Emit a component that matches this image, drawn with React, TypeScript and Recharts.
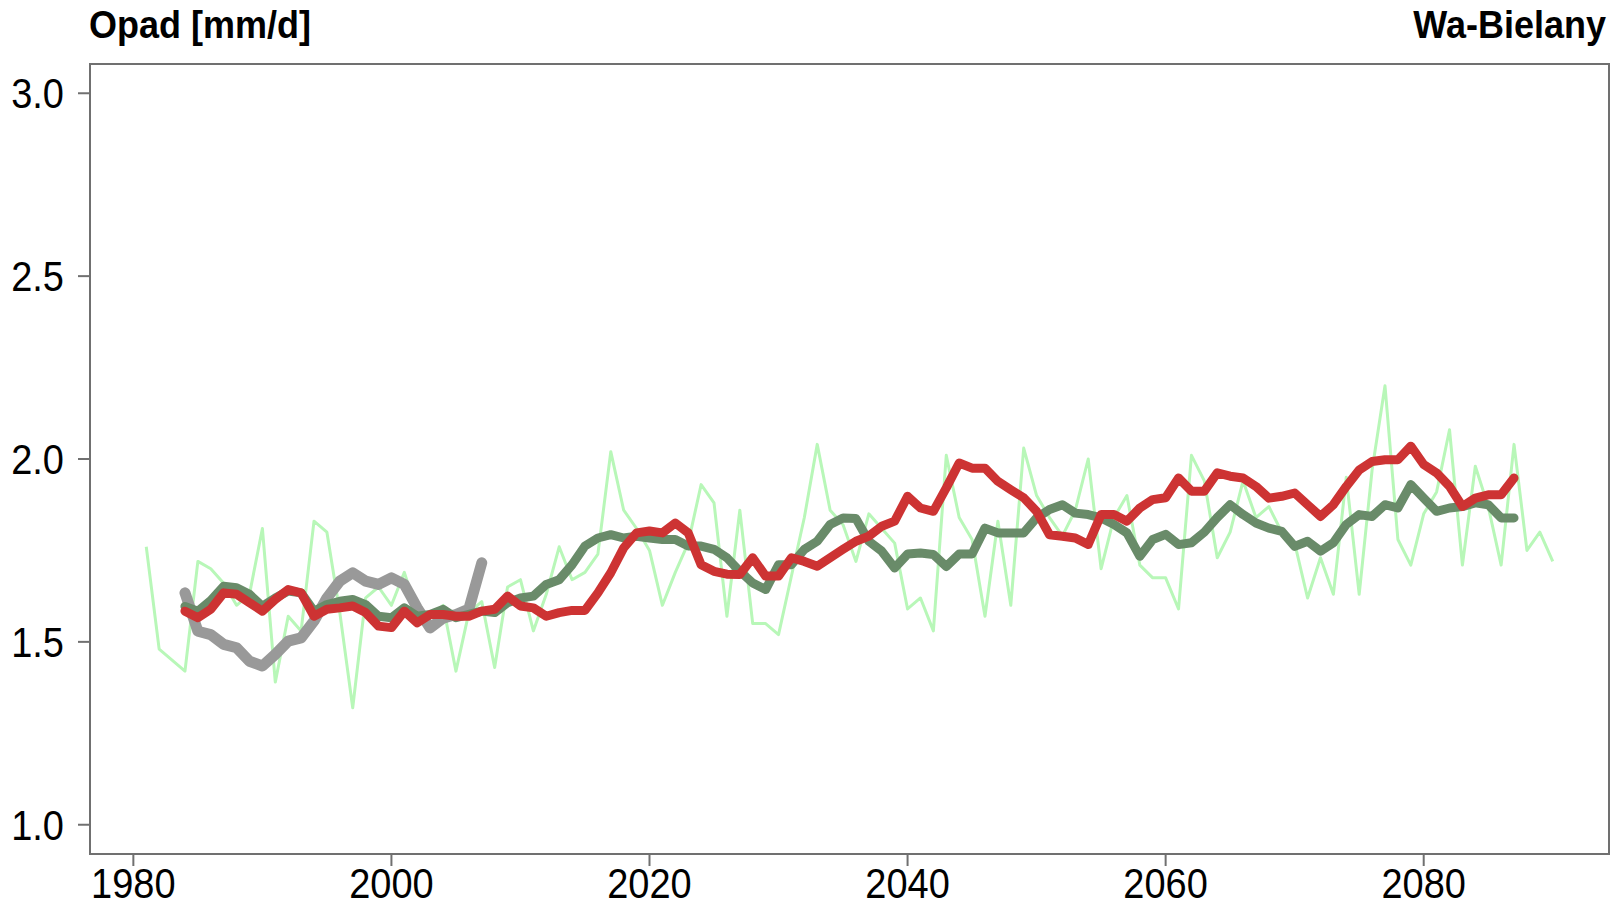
import React from "react";
import { LineChart, Line, XAxis, YAxis, ReferenceArea } from "recharts";

// ---- data ----
const FIRST_YEAR = 1981; // annual series 1981-2090
const SMOOTH_START = 1984; // smoothed series start

const annual = [
  1.76, 1.48, 1.45, 1.42, 1.72, 1.70, 1.66, 1.60, 1.63, 1.81,
  1.39, 1.57, 1.53, 1.83, 1.80, 1.58, 1.32, 1.62, 1.65, 1.60,
  1.69, 1.58, 1.57, 1.60, 1.42, 1.58, 1.61, 1.43, 1.65, 1.67,
  1.53, 1.63, 1.76, 1.67, 1.69, 1.74, 2.02, 1.86, 1.81, 1.75,
  1.60, 1.69, 1.77, 1.93, 1.88, 1.57, 1.86, 1.55, 1.55, 1.52,
  1.68, 1.84, 2.04, 1.86, 1.82, 1.72, 1.85, 1.81, 1.77, 1.59,
  1.62, 1.53, 2.01, 1.84, 1.78, 1.57, 1.83, 1.60, 2.03, 1.90,
  1.84, 1.79, 1.86, 2.00, 1.70, 1.84, 1.90, 1.71, 1.675, 1.675,
  1.59, 2.01, 1.94, 1.73, 1.80, 1.94, 1.84, 1.87, 1.80, 1.77,
  1.62, 1.73, 1.63, 1.95, 1.63, 1.97, 2.20, 1.78, 1.71, 1.85,
  1.91, 2.08, 1.71, 1.98, 1.87, 1.71, 2.04, 1.75, 1.80, 1.72,
];

// observed, smoothed (1984-2007)
const observed = [
  1.634, 1.529, 1.52, 1.493, 1.484, 1.447, 1.434, 1.466, 1.502, 1.511,
  1.557, 1.62, 1.666, 1.689, 1.666, 1.657, 1.675, 1.657, 1.593, 1.538,
  1.565, 1.575, 1.59, 1.716,
];

// model, smoothed (1984-2087)
const greenSmooth = [
  1.597, 1.584, 1.613, 1.652, 1.648, 1.630, 1.597, 1.620, 1.639, 1.634,
  1.584, 1.602, 1.611, 1.616, 1.602, 1.570, 1.566, 1.593, 1.570, 1.575,
  1.589, 1.566, 1.575, 1.584, 1.58, 1.607, 1.620, 1.625, 1.657, 1.670,
  1.711, 1.762, 1.784, 1.793, 1.784, 1.789, 1.784, 1.780, 1.780, 1.762,
  1.762, 1.753, 1.730, 1.693, 1.661, 1.643, 1.711, 1.711, 1.753, 1.775,
  1.821, 1.839, 1.837, 1.775, 1.748, 1.702, 1.740, 1.743, 1.739, 1.706,
  1.740, 1.740, 1.811, 1.798, 1.798, 1.798, 1.839, 1.862, 1.875, 1.852,
  1.848, 1.839, 1.821, 1.798, 1.734, 1.780, 1.794, 1.766, 1.771, 1.80,
  1.84, 1.875, 1.848, 1.825, 1.811, 1.802, 1.761, 1.775, 1.748, 1.771,
  1.821, 1.848, 1.843, 1.875, 1.866, 1.930, 1.893, 1.857, 1.866, 1.870,
  1.880, 1.875, 1.839, 1.839,
];

const redSmooth = [
  1.584, 1.566, 1.589, 1.634, 1.630, 1.607, 1.584, 1.616, 1.643, 1.634,
  1.570, 1.589, 1.593, 1.598, 1.580, 1.543, 1.539, 1.584, 1.552, 1.575,
  1.575, 1.570, 1.570, 1.584, 1.589, 1.625, 1.598, 1.593, 1.570, 1.580,
  1.586, 1.586, 1.634, 1.689, 1.757, 1.798, 1.803, 1.798, 1.825, 1.798,
  1.711, 1.693, 1.685, 1.684, 1.730, 1.680, 1.680, 1.730, 1.720, 1.707,
  1.730, 1.753, 1.775, 1.789, 1.816, 1.830, 1.898, 1.866, 1.857, 1.921,
  1.989, 1.975, 1.975, 1.939, 1.916, 1.894, 1.857, 1.793, 1.789, 1.784,
  1.766, 1.848, 1.848, 1.830, 1.866, 1.889, 1.894, 1.948, 1.912, 1.912,
  1.962, 1.953, 1.948, 1.925, 1.893, 1.898, 1.907, 1.875, 1.843, 1.875,
  1.925, 1.970, 1.993, 1.998, 1.998, 2.035, 1.985, 1.962, 1.925, 1.870,
  1.893, 1.902, 1.902, 1.948,
];

const xTicks = [1980, 2000, 2020, 2040, 2060, 2080];
const yTicks = [1.0, 1.5, 2.0, 2.5, 3.0];
const X_DOMAIN: [number, number] = [1976.64, 2094.36];
const Y_DOMAIN: [number, number] = [0.92, 3.08];

const TITLE_LEFT = "Opad [mm/d]";
const TITLE_RIGHT = "Wa-Bielany";

const data = annual.map((v, i) => {
  const year = FIRST_YEAR + i;
  const j = year - SMOOTH_START;
  return {
    year,
    annual: v,
    observed: j >= 0 && j < observed.length ? observed[j] : null,
    green: j >= 0 && j < greenSmooth.length ? greenSmooth[j] : null,
    red: j >= 0 && j < redSmooth.length ? redSmooth[j] : null,
  };
});

const FONT = "'Liberation Sans', Arial, Helvetica, sans-serif";
const BOX = "#707070";
const STRETCH = 1.1;

const XTick = (props: any) => {
  const { x, y, payload } = props;
  return (
    <text
      x={x}
      y={y}
      transform={`translate(${x},${y}) scale(1,${STRETCH}) translate(${-x},${-y})`}
      textAnchor="middle"
      dy="0.71em"
      fontSize={38}
      fontFamily={FONT}
      fill="#000"
    >
      {String(payload.value)}
    </text>
  );
};

const YTick = (props: any) => {
  const { x, y, payload } = props;
  return (
    <text
      x={x}
      y={y}
      transform={`translate(${x},${y}) scale(1,${STRETCH}) translate(${-x},${-y})`}
      textAnchor="end"
      dy="0.355em"
      fontSize={38}
      fontFamily={FONT}
      fill="#000"
    >
      {Number(payload.value).toFixed(1)}
    </text>
  );
};

export default function App() {
  return (
    <div style={{ position: "absolute", left: 0, top: 0, width: 1622, height: 905, background: "#fff" }}>
      <LineChart
        width={1622}
        height={905}
        data={data}
        margin={{ top: 64, right: 13, bottom: 0, left: 0 }}
      >
        <XAxis
          type="number"
          dataKey="year"
          domain={X_DOMAIN}
          ticks={xTicks}
          allowDataOverflow
          height={51}
          axisLine={false}
          tickLine={{ stroke: BOX, strokeWidth: 2 }}
          tickSize={12}
          tickMargin={2}
          tick={<XTick />}
        />
        <YAxis
          type="number"
          domain={Y_DOMAIN}
          ticks={yTicks}
          allowDataOverflow
          width={90}
          axisLine={false}
          tickLine={{ stroke: BOX, strokeWidth: 2 }}
          tickSize={12}
          tickMargin={14}
          tick={<YTick />}
        />
        <ReferenceArea
          x1={X_DOMAIN[0]}
          x2={X_DOMAIN[1]}
          y1={Y_DOMAIN[0]}
          y2={Y_DOMAIN[1]}
          fill="none"
          fillOpacity={0}
          stroke={BOX}
          strokeWidth={2}
          ifOverflow="visible"
        />
        <Line
          type="linear"
          dataKey="annual"
          stroke="#b8f7b8"
          strokeWidth={3}
          dot={false}
          isAnimationActive={false}
          strokeLinejoin="round"
        />
        <Line
          type="linear"
          dataKey="observed"
          stroke="#999999"
          strokeWidth={11}
          dot={false}
          isAnimationActive={false}
          strokeLinecap="round"
          strokeLinejoin="round"
        />
        <Line
          type="linear"
          dataKey="green"
          stroke="#698b69"
          strokeWidth={9}
          dot={false}
          isAnimationActive={false}
          strokeLinecap="round"
          strokeLinejoin="round"
        />
        <Line
          type="linear"
          dataKey="red"
          stroke="#cd3333"
          strokeWidth={9}
          dot={false}
          isAnimationActive={false}
          strokeLinecap="round"
          strokeLinejoin="round"
        />
      </LineChart>
      <svg
        width={1622}
        height={60}
        style={{ position: "absolute", left: 0, top: 0, pointerEvents: "none" }}
      >
        <text
          x={89}
          y={38}
          transform={`translate(89,38) scale(1,1.06) translate(-89,-38)`}
          fontFamily={FONT}
          fontWeight="bold"
          fontSize={36}
          fill="#000"
        >
          {TITLE_LEFT}
        </text>
        <text
          x={1606}
          y={38}
          transform={`translate(1606,38) scale(1,1.06) translate(-1606,-38)`}
          textAnchor="end"
          fontFamily={FONT}
          fontWeight="bold"
          fontSize={36}
          fill="#000"
        >
          {TITLE_RIGHT}
        </text>
      </svg>
    </div>
  );
}
